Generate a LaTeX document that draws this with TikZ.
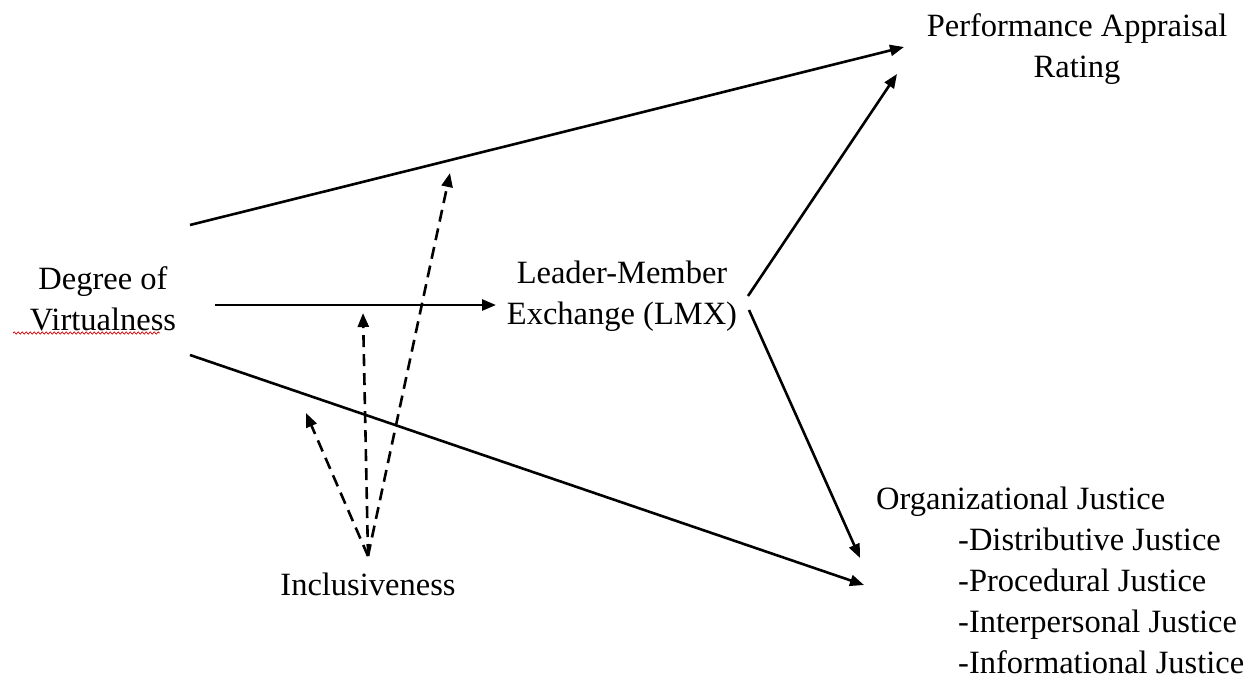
\documentclass[tikz,border=0pt]{standalone}
\usepackage{fontspec}
\setmainfont{Liberation Serif}
\usetikzlibrary{arrows.meta,decorations.pathmorphing}
\begin{document}
\begin{tikzpicture}[x=1pt,y=-1pt,
  lbl/.style={font=\fontsize{32.5}{41}\selectfont, align=center, inner sep=0pt},
  solidarrow/.style={line width=2.6pt, -{Triangle[length=14pt,width=11pt]}},
  dasharrow/.style={line width=2.6pt, dash pattern=on 12pt off 7pt, -{Triangle[length=14pt,width=11pt]}}]
\useasboundingbox (0,0) rectangle (1250,680);

% variables
\node[lbl] (dv) at (103,299) {Degree of\\Virtualness};
\node[lbl] (lmx) at (622,296) {Leader-Member\\Exchange (LMX)};
\node[lbl] (par) at (1077,49) {Performance Appraisal\\Rating};
\node[lbl] (inc) at (368,584) {Inclusiveness};
\node[lbl, align=left, anchor=north west] (oj) at (876,487)
  {Organizational Justice\\
   \hspace*{82pt}-Distributive Justice\\
   \hspace*{82pt}-Procedural Justice\\
   \hspace*{82pt}-Interpersonal Justice\\
   \hspace*{82pt}-Informational Justice};

% spell-check underline
\coordinate (sqA) at (13,333);
\coordinate (sqB) at (160,333);
\draw[red!85!black, line width=0.7pt, decorate,
  decoration={snake, amplitude=1.1pt, segment length=4pt}] (sqA) -- (sqB);

% anchor points of the paths
\coordinate (topS) at (190,225);
\coordinate (topE) at (904,47);
\coordinate (midS) at (215,305);
\coordinate (midE) at (496,305);
\coordinate (botS) at (190,355);
\coordinate (botE) at (864,585);
\coordinate (lmxUp) at (748,296);
\coordinate (parIn) at (897,74);
\coordinate (lmxDn) at (749,310);
\coordinate (ojIn) at (860,558);
\coordinate (src) at (368,556);
\coordinate (t1) at (450,173);
\coordinate (t2) at (363,313);
\coordinate (t3) at (306,413);

% main effects
\draw[solidarrow] (topS) -- (topE);
\draw[solidarrow] (midS) -- (midE);
\draw[solidarrow] (botS) -- (botE);
\draw[solidarrow] (lmxUp) -- (parIn);
\draw[solidarrow] (lmxDn) -- (ojIn);

% moderation by inclusiveness
\draw[dasharrow] (src) -- (t1);
\draw[dasharrow] (src) -- (t2);
\draw[dasharrow] (src) -- (t3);
\end{tikzpicture}
\end{document}
